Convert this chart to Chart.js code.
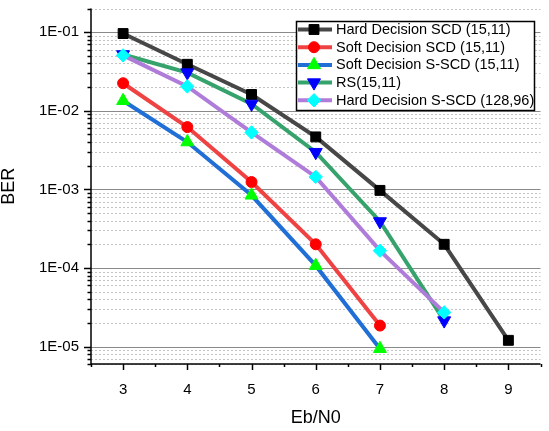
<!DOCTYPE html>
<html>
<head>
<meta charset="utf-8">
<script src="https://cdn.jsdelivr.net/npm/chart.js@4.4.1/dist/chart.umd.min.js"></script>
<style>
  body { margin: 0; background: #fff; }
  #wrap { width: 549px; height: 431px; }
</style>
</head>
<body>
<div id="wrap"><canvas id="chart1"></canvas></div>
<script>
// Eb/N0 values and BER
const ebn0 = [3, 4, 5, 6, 7, 8, 9];
const hardSCD = [0.096, 0.039, 0.0161, 0.00465, 0.00097, 0.0002, 0.000012];
const softSCD = [0.0224, 0.0062, 0.00124, 0.0002, 0.0000185];
const softSSCD = [0.0134, 0.0040, 0.00084, 0.000107, 0.0000094];
const rs1511 = [0.052, 0.0306, 0.0122, 0.00297, 0.00039, 0.0000214];
const hardSSCD128 = [0.0507, 0.0204, 0.0053, 0.00144, 0.000166, 0.0000272];
const seriesNames = [
    'Hard Decision SCD (15,11)',
    'Soft Decision SCD (15,11)',
    'Soft Decision S-SCD (15,11)',
    'RS(15,11)',
    'Hard Decision S-SCD (128,96)'
];
const xTicks = [3, 4, 5, 6, 7, 8, 9];

const FONT = '"Liberation Sans", Arial, sans-serif';

function pts(vals) {
    return vals.map((v, i) => ({ x: ebn0[i], y: v }));
}

function makeSet(i, vals, lineColor, markColor, style, radius, rot) {
    return {
        label: seriesNames[i],
        data: pts(vals),
        borderColor: lineColor,
        borderWidth: 4,
        backgroundColor: markColor,
        pointBackgroundColor: markColor,
        pointBorderColor: markColor,
        pointBorderWidth: 1,
        pointStyle: style,
        pointRadius: radius,
        pointHoverRadius: radius,
        pointRotation: rot,
        tension: 0,
        order: 5 - i
    };
}

const datasets = [
    makeSet(0, hardSCD, '#474747', '#000000', 'rect', 7, 0),
    makeSet(1, softSCD, '#ef4343', '#ff0000', 'circle', 5.5, 0),
    makeSet(2, softSSCD, '#1f6fd6', '#00ff00', 'triangle', 7.5, 0),
    makeSet(3, rs1511, '#36a26c', '#0000ff', 'triangle', 7.5, 180),
    makeSet(4, hardSSCD128, '#b07cda', '#00ffff', 'rectRot', 6.7, 0)
];

// grid lines, axis lines and tick marks in the Origin style
const axesPlugin = {
    id: 'originAxes',
    beforeDatasetsDraw(chart) {
        const ctx = chart.ctx;
        const a = chart.chartArea;
        const y = chart.scales.y;
        const x = chart.scales.x;
        ctx.save();
        for (let k = -6; k <= 0; k++) {
            for (let m = 1; m <= 9; m++) {
                const v = m * Math.pow(10, k);
                if (v < y.min * 0.999 || v > y.max * 1.001) continue;
                const py = Math.round(y.getPixelForValue(v)) + 0.5;
                ctx.beginPath();
                if (m === 1) {
                    ctx.strokeStyle = '#8a8a8a';
                    ctx.setLineDash([]);
                } else {
                    ctx.strokeStyle = '#c4c4c4';
                    ctx.setLineDash([2, 2]);
                }
                ctx.lineWidth = 1;
                ctx.moveTo(a.left, py);
                ctx.lineTo(a.right, py);
                ctx.stroke();
                // tick mark
                ctx.setLineDash([]);
                ctx.strokeStyle = '#000';
                ctx.lineWidth = 1.5;
                ctx.beginPath();
                ctx.moveTo(a.left, py);
                ctx.lineTo(a.left - (m === 1 ? 7 : 3.5), py);
                ctx.stroke();
            }
        }
        ctx.setLineDash([]);
        ctx.strokeStyle = '#000';
        ctx.lineWidth = 1.5;
        for (let t = 2.5; t <= 9.5; t += 0.5) {
            const px = Math.round(x.getPixelForValue(t)) + 0.5;
            const major = Number.isInteger(t);
            ctx.beginPath();
            ctx.moveTo(px, a.bottom);
            ctx.lineTo(px, a.bottom + (major ? 6 : 3));
            ctx.stroke();
        }
        ctx.beginPath();
        ctx.moveTo(a.left, a.top);
        ctx.lineTo(a.left, a.bottom);
        ctx.lineTo(a.right, a.bottom);
        ctx.stroke();
        ctx.restore();
    }
};

const legendPlugin = {
    id: 'boxLegend',
    afterDraw(chart) {
        const ctx = chart.ctx;
        const bx = 296.5, by = 21.5, bw = 238, bh = 89;
        ctx.save();
        ctx.fillStyle = '#fff';
        ctx.fillRect(bx, by, bw, bh);
        ctx.strokeStyle = '#000';
        ctx.lineWidth = 1.5;
        ctx.strokeRect(bx, by, bw, bh);
        ctx.font = '14.5px ' + FONT;
        ctx.textBaseline = 'middle';
        chart.data.datasets.forEach((ds, i) => {
            const ry = 29.5 + i * 17.7;
            ctx.strokeStyle = ds.borderColor;
            ctx.lineWidth = 4;
            ctx.beginPath();
            ctx.moveTo(298, ry);
            ctx.lineTo(332, ry);
            ctx.stroke();
            ctx.fillStyle = ds.pointBackgroundColor;
            ctx.strokeStyle = ds.pointBorderColor;
            ctx.lineWidth = 1;
            Chart.helpers.drawPoint(ctx, {
                pointStyle: ds.pointStyle,
                radius: ds.pointRadius,
                rotation: ds.pointRotation,
                borderWidth: 1
            }, 314, ry);
            ctx.fillStyle = '#000';
            ctx.fillText(ds.label, 336, ry + 0.5);
        });
        ctx.restore();
    }
};

const config = {
    type: 'line',
    data: { datasets: datasets },
    options: {
        responsive: true,
        maintainAspectRatio: false,
        animation: false,
        layout: { padding: { left: 0, top: 8, right: 6, bottom: 0 } },
        plugins: {
            legend: { display: false },
            tooltip: { enabled: false }
        },
        scales: {
            x: {
                type: 'linear',
                min: 2.5,
                max: 9.5,
                afterBuildTicks: (scale) => {
                    scale.ticks = xTicks.map(v => ({ value: v }));
                },
                afterFit: (scale) => {
                    scale.height = 67;
                    scale.paddingLeft = 0;
                    scale.paddingRight = 0;
                },
                grid: { display: true, drawOnChartArea: false, drawTicks: false, color: 'transparent' },
                border: { display: false },
                ticks: {
                    color: '#000',
                    padding: 17,
                    font: { family: FONT, size: 15 },
                    autoSkip: false,
                    maxRotation: 0
                },
                title: {
                    display: true,
                    text: 'Eb/N0',
                    color: '#000',
                    font: { family: FONT, size: 18, lineHeight: 1 },
                    padding: { top: 0, bottom: 4 }
                }
            },
            y: {
                type: 'logarithmic',
                min: 6e-6,
                max: 0.2,
                afterBuildTicks: (scale) => {
                    const list = [];
                    for (let k = -6; k <= 0; k++) {
                        const v = Math.pow(10, k);
                        if (v >= scale.min && v <= scale.max) list.push({ value: v, major: true });
                    }
                    scale.ticks = list;
                },
                afterFit: (scale) => {
                    scale.width = 91;
                    scale.paddingTop = 0;
                    scale.paddingBottom = 0;
                },
                grid: { display: true, drawOnChartArea: false, drawTicks: false, color: 'transparent' },
                border: { display: false },
                ticks: {
                    color: '#000',
                    padding: 12,
                    font: { family: FONT, size: 15 },
                    autoSkip: false,
                    callback: (v) => {
                        const e = Math.round(Math.log10(v));
                        return '1E-' + String(-e).padStart(2, '0');
                    }
                },
                title: {
                    display: true,
                    text: 'BER',
                    color: '#000',
                    font: { family: FONT, size: 18, lineHeight: 1 },
                    padding: 0
                }
            }
        }
    },
    plugins: [axesPlugin, legendPlugin]
};

var myLinechart = new Chart(document.getElementById('chart1'), config);
</script>
</body>
</html>
